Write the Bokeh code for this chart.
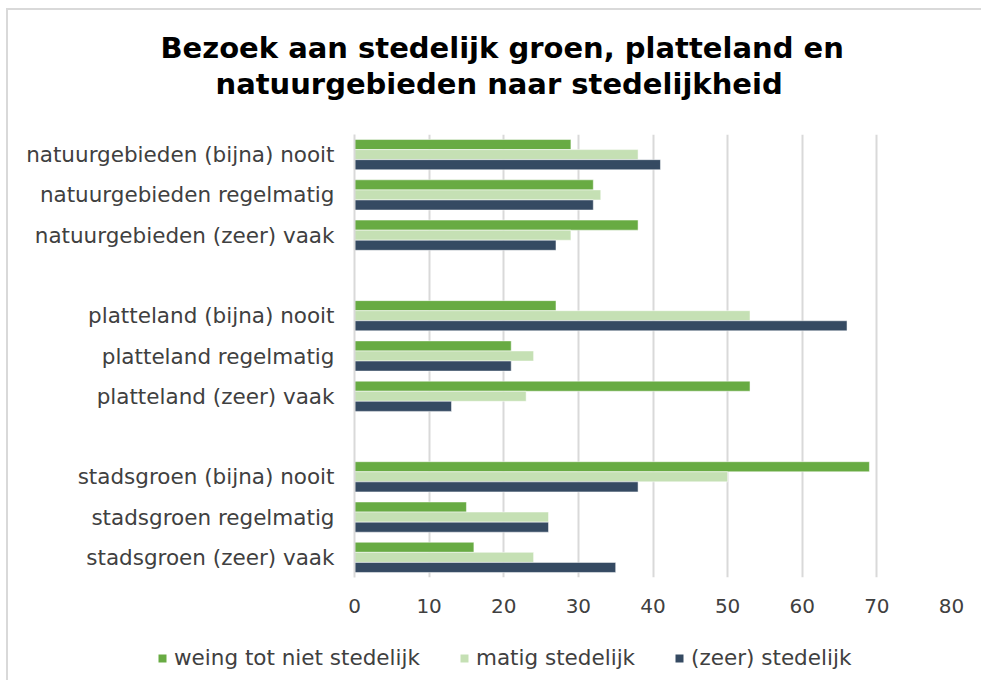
from bokeh.plotting import figure
from bokeh.layouts import column, row
from bokeh.models import FactorRange, Range1d, Legend, LegendItem, Title, ColumnDataSource, FixedTicker
from bokeh.transform import dodge
from bokeh.embed import file_html
from bokeh.resources import INLINE

# ---- data (top to bottom) ----
categories = [
    "natuurgebieden (bijna) nooit",
    "natuurgebieden regelmatig",
    "natuurgebieden (zeer) vaak",
    " ",
    "platteland (bijna) nooit",
    "platteland regelmatig",
    "platteland (zeer) vaak",
    "  ",
    "stadsgroen (bijna) nooit",
    "stadsgroen regelmatig",
    "stadsgroen (zeer) vaak",
]
weinig = [29, 32, 38, None, 27, 21, 53, None, 69, 15, 16]
matig = [38, 33, 29, None, 53, 24, 23, None, 50, 26, 24]
zeer = [41, 32, 27, None, 66, 21, 13, None, 38, 26, 35]
series_names = ["weing tot niet stedelijk", "matig stedelijk", "(zeer) stedelijk"]
x_ticks = [0, 10, 20, 30, 40, 50, 60, 70, 80]
title_lines = ["Bezoek aan stedelijk groen, platteland en",
               "natuurgebieden naar stedelijkheid"]

colors = ["#68AB43", "#C5E0B4", "#354A62"]
FONT = "DejaVu Sans"
TXT = "#404040"

def clean(v):
    return [0 if x is None else x for x in v]

src = ColumnDataSource(dict(cat=categories, w=clean(weinig), m=clean(matig), z=clean(zeer)))

p = figure(width=973, height=620, output_backend="svg", toolbar_location=None,
           y_range=FactorRange(factors=list(reversed(categories)), range_padding=0),
           x_range=Range1d(0, 80))
p.min_border_left = 346
p.min_border_right = 30
p.min_border_top = 124
p.min_border_bottom = 53
p.outline_line_color = None

bh = 0.25
cols = ["w", "m", "z"]
offs = [bh, 0, -bh]
for c, o, col in zip(cols, offs, colors):
    p.hbar(y=dodge("cat", o, range=p.y_range), right=c, height=bh, source=src,
           fill_color=col, line_color="white", line_width=0.5)

p.ygrid.grid_line_color = None
p.xgrid.grid_line_color = "#d9d9d9"
p.xgrid.grid_line_width = 2
p.xaxis.ticker = FixedTicker(ticks=x_ticks)

p.xaxis.axis_line_color = None
p.xaxis.major_tick_line_color = None
p.xaxis.minor_tick_line_color = None
p.xaxis.major_tick_out = 0
p.xaxis.major_tick_in = 0
p.xaxis.major_label_standoff = 21
p.xaxis.major_label_text_font = FONT
p.xaxis.major_label_text_font_size = "20px"
p.xaxis.major_label_text_color = TXT

p.yaxis.axis_line_color = "#d9d9d9"
p.yaxis.axis_line_width = 2
p.yaxis.major_tick_line_color = None
p.yaxis.minor_tick_line_color = None
p.yaxis.major_tick_out = 0
p.yaxis.major_tick_in = 0
p.yaxis.major_label_standoff = 20
p.yaxis.major_label_text_font = FONT
p.yaxis.major_label_text_font_size = "21.5px"
p.yaxis.major_label_text_color = TXT

p.add_layout(Title(text=" ", text_font_size="20px"), "above")
p.add_layout(Title(text=title_lines[1], align="left", offset=-139,
                   text_font=FONT, text_font_style="bold", text_font_size="29px",
                   text_color="black", standoff=0), "above")
p.add_layout(Title(text=title_lines[0], align="left", offset=-194,
                   text_font=FONT, text_font_style="bold", text_font_size="29px",
                   text_color="black", standoff=0), "above")

# ---- legend strip below the chart ----
lg = figure(width=973, height=50, output_backend="svg", toolbar_location=None,
            x_range=Range1d(0, 80), y_range=FactorRange(factors=list(reversed(categories))))
lg.min_border_left = lg.min_border_right = lg.min_border_top = lg.min_border_bottom = 0
lg.axis.visible = False
lg.grid.visible = False
lg.outline_line_color = None
items = []
for c, name, col in zip(cols, series_names, colors):
    r = lg.hbar(y="cat", right=c, height=bh, source=src, fill_color=col, line_color=None)
    r.visible = False
    items.append(LegendItem(label=name, renderers=[r]))
legend = Legend(items=items, orientation="horizontal", location=(149, 10),
                glyph_width=10, glyph_height=10, spacing=39, label_standoff=7,
                label_text_font=FONT, label_text_font_size="21.5px", label_text_color=TXT,
                border_line_color=None, background_fill_alpha=0, padding=4, margin=0,
                inactive_fill_alpha=0)
lg.add_layout(legend, "center")

page = column(p, row(lg), spacing=0,
              styles={"border-left": "2px solid #d9d9d9", "border-top": "2px solid #d9d9d9",
                      "margin-left": "6px", "margin-top": "8px"})
open("out.html", "w").write(file_html(page, INLINE))
